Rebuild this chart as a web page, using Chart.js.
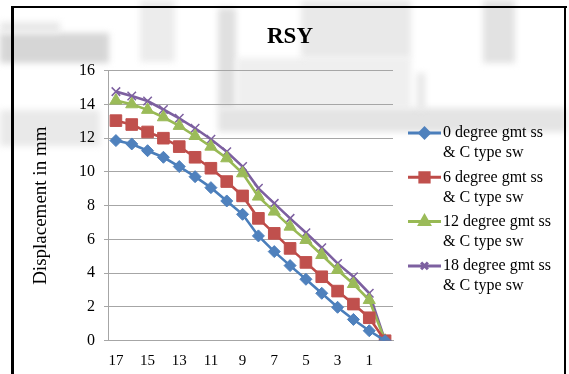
<!DOCTYPE html>
<html>
<head>
<meta charset="utf-8">
<title>RSY</title>
<script src="https://cdn.jsdelivr.net/npm/chart.js@4.4.1/dist/chart.umd.min.js"></script>
<style>
    html, body { margin: 0; padding: 0; background: #fff; }
    #wrap { position: relative; width: 569px; height: 374px; }
</style>
</head>
<body>
<div id="wrap"><canvas id="rsyChart" width="569" height="374"></canvas></div>
<script>
// Storey numbers along the x axis, top storey first
const storeys = ['17', '16', '15', '14', '13', '12', '11', '10', '9', '8', '7', '6', '5', '4', '3', '2', '1', '0'];

// Displacement (mm) per storey for each gmt ss angle
const deg0 = [11.86, 11.66, 11.26, 10.87, 10.32, 9.72, 9.07, 8.28, 7.49, 6.21, 5.28, 4.45, 3.64, 2.81, 1.98, 1.26, 0.59, 0];
const deg6 = [13.04, 12.81, 12.37, 12.0, 11.5, 10.87, 10.22, 9.43, 8.58, 7.25, 6.36, 5.47, 4.64, 3.79, 2.94, 2.17, 1.36, 0];
const deg12 = [14.23, 14.01, 13.68, 13.24, 12.73, 12.13, 11.5, 10.81, 9.92, 8.54, 7.65, 6.76, 5.97, 5.08, 4.19, 3.36, 2.41, 0];
const deg18 = [14.76, 14.5, 14.2, 13.7, 13.18, 12.59, 11.94, 11.2, 10.32, 9.03, 8.14, 7.25, 6.4, 5.51, 4.58, 3.79, 2.81, 0];

const seriesNames = [
    ['0 degree gmt ss', '& C type sw'],
    ['6 degree gmt ss', '& C type sw'],
    ['12 degree gmt ss', '& C type sw'],
    ['18 degree gmt ss', '& C type sw']
];

const yTicks = { min: 0, max: 16, step: 2 };

const chartTitle = 'RSY';
const serif = "'Liberation Serif', 'Times New Roman', serif";

// Faint grey page shapes behind the chart, plus the black frame and title
const backdrop = {
    id: 'backdrop',
    beforeDraw(chart) {
        const ctx = chart.ctx;
        ctx.save();
        ctx.fillStyle = '#fff';
        ctx.fillRect(0, 0, chart.width, chart.height);
        ctx.filter = 'blur(3px)';
        const blocks = [
            [0, 33, 109, 30, '#d6d6d6'],
            [0, 22, 60, 11, '#e8e8e8'],
            [140, 0, 35, 62, '#ececec'],
            [218, 8, 18, 100, '#e0e0e0'],
            [236, 58, 175, 50, '#efefef'],
            [301, 0, 110, 58, '#e9e9e9'],
            [483, 0, 32, 63, '#e2e2e2'],
            [218, 108, 348, 24, '#e4e4e4'],
            [0, 110, 100, 36, '#e9e9e9'],
            [417, 73, 8, 37, '#e6e6e6']
        ];
        blocks.forEach(b => {
            ctx.fillStyle = b[4];
            ctx.fillRect(b[0], b[1], b[2], b[3]);
        });
        ctx.filter = 'none';
        ctx.restore();
    },
    afterDraw(chart) {
        const ctx = chart.ctx;
        ctx.save();
        ctx.fillStyle = '#000';
        ctx.fillRect(11, 6, 3, chart.height);
        ctx.fillRect(11, 6, 556, 2);
        ctx.fillRect(564, 6, 2, chart.height);
        ctx.font = 'bold 23px ' + serif;
        ctx.textAlign = 'center';
        ctx.textBaseline = 'middle';
        ctx.fillText(chartTitle, 290, 37);
        ctx.restore();
    }
};

// Two-line legend entries on the right
const sideLegend = {
    id: 'sideLegend',
    afterDraw(chart) {
        const ctx = chart.ctx;
        ctx.save();
        ctx.font = '16px ' + serif;
        ctx.textBaseline = 'middle';
        ctx.fillStyle = '#000';
        chart.data.datasets.forEach((ds, i) => {
            const y = 133 + i * 44.3;
            ctx.strokeStyle = ds.borderColor;
            ctx.lineWidth = 3;
            ctx.beginPath();
            ctx.moveTo(408, y);
            ctx.lineTo(441, y);
            ctx.stroke();
            ctx.fillStyle = ds.pointBackgroundColor;
            ctx.strokeStyle = ds.pointBorderColor;
            Chart.helpers.drawPoint(ctx, {
                pointStyle: ds.pointStyle,
                radius: ds.pointRadius * 0.8,
                rotation: 0,
                borderWidth: ds.pointBorderWidth
            }, 424.5, y);
            ctx.fillStyle = '#000';
            seriesNames[i].forEach((line, k) => {
                ctx.fillText(line, 443, y + k * 20);
            });
        });
        ctx.restore();
    }
};

function makeSeries(name, data, line, fill, style, radius) {
    return {
        label: name.join(' '),
        data: data,
        borderColor: line,
        backgroundColor: fill,
        borderWidth: 2.6,
        pointStyle: style,
        pointRadius: radius,
        pointBackgroundColor: fill,
        pointBorderColor: style === 'crossRot' ? line : fill,
        pointBorderWidth: style === 'crossRot' ? 1.5 : 1,
        tension: 0
    };
}

const ctx = document.getElementById('rsyChart').getContext('2d');
const rsyChart = new Chart(ctx, {
    type: 'line',
    data: {
        labels: storeys,
        datasets: [
            makeSeries(seriesNames[0], deg0, '#4A7EBB', '#4F81BD', 'rectRot', 6),
            makeSeries(seriesNames[1], deg6, '#BE4B48', '#C0504D', 'rect', 8.2),
            makeSeries(seriesNames[2], deg12, '#98B954', '#9BBB59', 'triangle', 7),
            makeSeries(seriesNames[3], deg18, '#7D60A0', '#8064A2', 'crossRot', 6)
        ]
    },
    options: {
        responsive: false,
        animation: false,
        layout: { padding: { left: 14, right: 176, top: 70.7, bottom: 0 } },
        plugins: {
            legend: { display: false },
            tooltip: { enabled: false },
            title: { display: false }
        },
        scales: {
            x: {
                offset: true,
                grid: { display: false, drawTicks: false },
                border: { display: true, color: '#a6a6a6', width: 1 },
                ticks: {
                    autoSkip: false,
                    maxRotation: 0,
                    padding: 11,
                    color: '#000',
                    font: { family: serif, size: 15 },
                    callback: function (value, index) {
                        return index % 2 === 0 ? this.getLabelForValue(value) : '';
                    }
                },
                afterFit: scale => { scale.height = 33.3; }
            },
            y: {
                min: yTicks.min,
                max: yTicks.max,
                grid: { color: '#a6a6a6', lineWidth: 1, tickLength: 4 },
                border: { display: true, color: '#a6a6a6', width: 1 },
                ticks: {
                    stepSize: yTicks.step,
                    padding: 9,
                    color: '#000',
                    font: { family: serif, size: 16 }
                },
                title: {
                    display: true,
                    text: 'Displacement in mm',
                    color: '#000',
                    font: { family: serif, size: 19 },
                    padding: { top: 16, bottom: 0 }
                },
                afterFit: scale => { scale.width = 94; }
            }
        }
    },
    plugins: [backdrop, sideLegend]
});
</script>
</body>
</html>
